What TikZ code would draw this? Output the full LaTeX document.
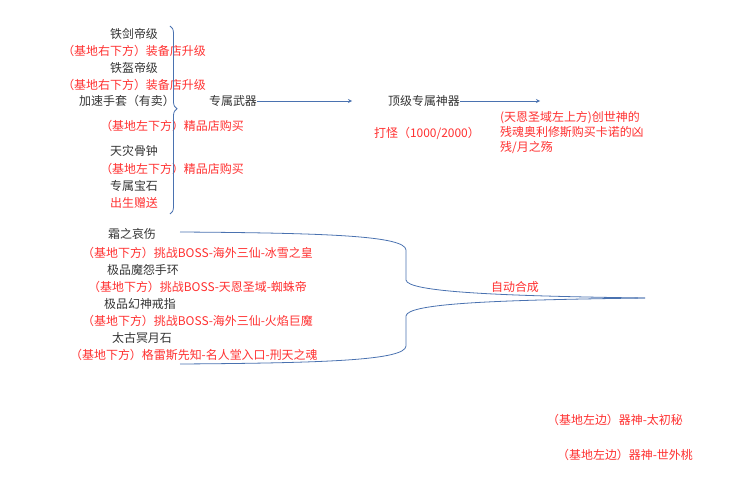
\documentclass[tikz,border=0pt]{standalone}
\usepackage{fontspec}
\setmainfont{Noto Sans CJK SC}
\usetikzlibrary{decorations.pathreplacing}
\definecolor{txtgray}{HTML}{333333}
\definecolor{txtred}{HTML}{FF3030}
\definecolor{linkblue}{HTML}{4A72B0}
\tikzset{
  item/.style={text=txtgray,font=\fontsize{12}{14}\selectfont,inner sep=0pt},
  src/.style={text=txtred,font=\fontsize{12}{14}\selectfont,inner sep=0pt},
  link/.style={->,linkblue,thick,>=stealth},
}
\begin{document}
\begin{tikzpicture}[x=1bp,y=-1bp]
\useasboundingbox (0,0) rectangle (738,500);

% Weapon parts
\node[item] (jian) at (134,34) {铁剑帝级};
\node[src] (jianS) at (134,51) {（基地右下方）装备店升级};
\node[item] (kui) at (134,68) {铁盔帝级};
\node[src] (kuiS) at (134,85) {（基地右下方）装备店升级};
\node[item] (shou) at (127,101) {加速手套（有卖）};
\node[src] (shouS) at (172,126) {（基地左下方）精品店购买};
\node[item] (zhong) at (134,151) {天灾骨钟};
\node[src] (zhongS) at (172,169) {（基地左下方）精品店购买};
\node[item] (bao) at (134,186) {专属宝石};
\node[src] (baoS) at (134,203) {出生赠送};
\draw[linkblue,thick,decorate,decoration={brace,amplitude=7pt,aspect=0.44}]
  (170,26) -- (170,214) coordinate[pos=0.5] (mid);

% Chain
\node[item] (wuqi) at (233,101) {专属武器};
\coordinate (a1) at (352,101);
\draw[link] (wuqi.east) -- (a1);
\node[item] (shenqi) at (424,101) {顶级专属神器};
\coordinate (a2) at (540,101);
\draw[link] (shenqi.east) -- (a2);
\node[src] (daguai) at (427,133) {打怪（1000/2000）};
\node[src,align=left,anchor=north west] (chuang) at (500,111)
  {(天恩圣域左上方)创世神的\\[1pt]残魂奥利修斯购买卡诺的凶\\[1pt]残/月之殇};

% Merge parts
\node[item] (shuang) at (132,234) {霜之哀伤};
\node[src,anchor=west] (shuangS) at (82,253) {（基地下方）挑战BOSS-海外三仙-冰雪之皇};
\node[item] (huan) at (143,270) {极品魔怨手环};
\node[src,anchor=west] (huanS) at (88,287) {（基地下方）挑战BOSS-天恩圣域-蜘蛛帝};
\node[item] (jie) at (140,304) {极品幻神戒指};
\node[src,anchor=west] (jieS) at (82,321) {（基地下方）挑战BOSS-海外三仙-火焰巨魔};
\node[src] (he) at (515,287) {自动合成};
\node[item] (shi) at (142,338) {太古冥月石};
\node[src,anchor=west] (shiS) at (70,355) {（基地下方）格雷斯先知-名人堂入口-刑天之魂};
\coordinate (top) at (180,232);
\coordinate (bot) at (180,364);
\coordinate (tip) at (645,298);
\draw[linkblue,thick] (top) .. controls (330,233) and (405,236) .. (406,250)
  -- (406,280) .. controls (407,292) and (500,296) .. (tip);
\draw[linkblue,thick] (bot) .. controls (330,363) and (405,360) .. (406,346)
  -- (406,316) .. controls (407,303) and (500,300) .. (tip);

% Other
\node[src] (tai) at (615,420) {（基地左边）器神-太初秘};
\node[src] (tao) at (625,455) {（基地左边）器神-世外桃};
\end{tikzpicture}
\end{document}
